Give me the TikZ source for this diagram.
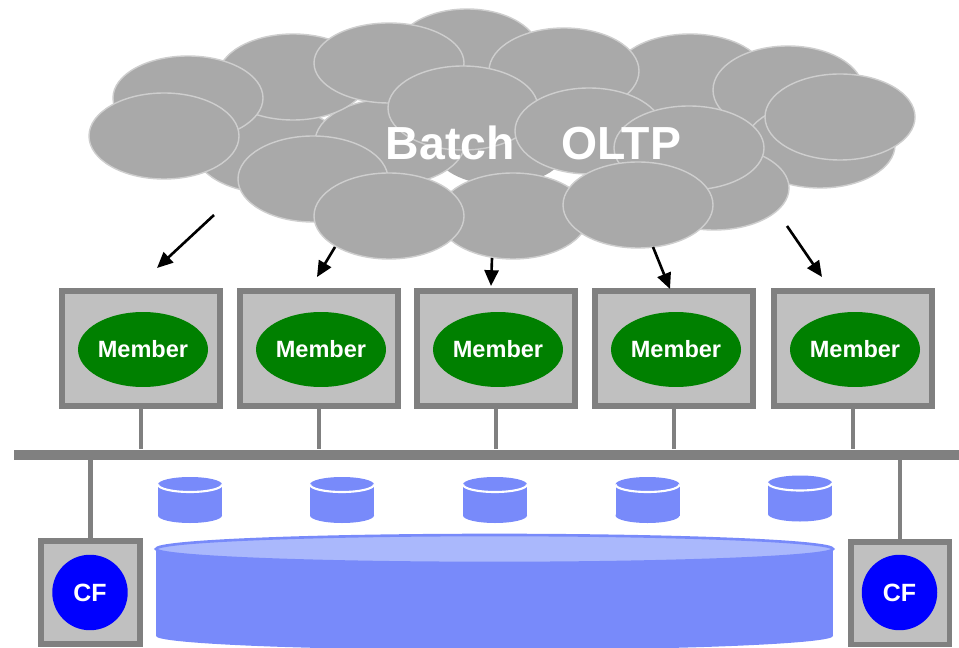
\documentclass[tikz,border=0pt]{standalone}
\usepackage{fontspec}
\setmainfont{Liberation Sans}
\usetikzlibrary{arrows.meta,shapes.geometric}

\definecolor{cloudgray}{RGB}{169,169,169}
\definecolor{cloudedge}{RGB}{206,206,206}
\definecolor{boxgray}{RGB}{192,192,192}
\definecolor{linegray}{RGB}{128,128,128}
\definecolor{memgreen}{RGB}{0,128,0}
\definecolor{diskblue}{RGB}{120,138,250}
\definecolor{disktop}{RGB}{170,184,252}

\begin{document}
\begin{tikzpicture}[x=0.02cm, y=-0.02cm,
  puff/.style={fill=cloudgray, draw=cloudedge, line width=0.8pt},
  srv/.style={draw=linegray, fill=boxgray, line width=3.4pt,
              minimum width=3.16cm, minimum height=2.3cm, inner sep=0pt},
  mem/.style={ellipse, fill=memgreen, text=white, inner sep=0pt,
              font=\bfseries\fontsize{13.4pt}{16pt}\selectfont,
              minimum width=2.6cm, minimum height=1.5cm},
  cfbox/.style={srv, minimum width=1.98cm, minimum height=2.06cm},
  cfnode/.style={circle, fill=blue, text=white, inner sep=0pt, minimum size=1.51cm,
                 font=\bfseries\fontsize{14.2pt}{17pt}\selectfont},
  link/.style={draw=linegray, line width=2.3pt},
  arr/.style={-{Triangle[length=9pt, width=8pt]}, line width=1.5pt},
  disk/.style={fill=diskblue}]
  \useasboundingbox (0,0) rectangle (959,648);

  % workload cloud
  \fill[cloudgray] (500,150) ellipse [x radius=65, y radius=35];
  \foreach \cx/\cy/\rx/\ry in {270/150/75/43, 390/142/75/43, 467/52/72/43, 690/75/75/41,
      788/90/75/44, 820/145/75/43, 714/188/75/42, 293/77/75/43, 188/98/75/42,
      164/136/75/43, 389/63/75/40, 564/71/75/43, 463/108/75/42, 589/131/74/43,
      689/148/75/42, 840/117/75/43, 313/179/75/43, 513/216/75/43, 389/216/75/43,
      638/205/75/43}
    \filldraw[puff] (\cx,\cy) ellipse [x radius=\rx, y radius=\ry];
  \node[text=white, font=\bfseries\fontsize{26.4pt}{30pt}\selectfont] (load) at (533.5,143) {Batch\quad OLTP};

  % members
  \foreach \i/\x in {1/141, 2/319, 3/496, 4/674, 5/853} {
    \node[srv] (s\i) at (\x,348.5) {};
    \node[mem] (m\i) at (\x+2,349.5) {Member};
  }

  % arrows from the cloud
  \foreach \i/\a/\b/\c/\d in {1/214/215/157/268, 2/335/247/317/277, 3/492/258/491/286,
      4/653/247/670/289, 5/787/226/822/277} {
    \coordinate (t\i) at (\a,\b);
    \coordinate (h\i) at (\c,\d);
    \draw[arr] (t\i) -- (h\i);
  }

  % interconnect
  \node[fill=linegray, inner sep=0pt, minimum height=0.2cm, minimum width=18.9cm, anchor=west] (bus) at (14,454.5) {};
  \foreach \i in {1,...,5}
    \draw[link] (s\i.south) -- (s\i.south |- bus.north);

  % CFs
  \node[cfbox] (cfl) at (90.5,592.5) {};
  \node[cfnode] (cl) at (90,592.5) {CF};
  \node[cfbox] (cfr) at (900,593) {};
  \node[cfnode] (cr) at (899.5,592.5) {CF};
  \draw[link] (cfl.north |- bus.south) -- (cfl.north);
  \draw[link] (cfr.north |- bus.south) -- (cfr.north);

  % local disks
  \foreach \x/\y in {190/484.5, 342/484.5, 495/484.5, 647.5/484.5, 800/483} {
    \fill[disk] (\x,\y+31) ellipse [x radius=32, y radius=7.5];
    \fill[disk] (\x-32,\y) rectangle (\x+32,\y+31);
    \fill[disk] (\x,\y) ellipse [x radius=32, y radius=7.5];
    \draw[white, line width=1.2pt] (\x-32,\y) arc [start angle=180, end angle=0, x radius=32, y radius=7.5];
  }

  % shared storage
  \fill[disk] (494.5,636) ellipse [x radius=338.5, y radius=14];
  \fill[disk] (156,549) rectangle (833,636);
  \filldraw[fill=disktop, draw=diskblue, line width=1.5pt] (494.5,549) ellipse [x radius=338.5, y radius=14];
\end{tikzpicture}
\end{document}
